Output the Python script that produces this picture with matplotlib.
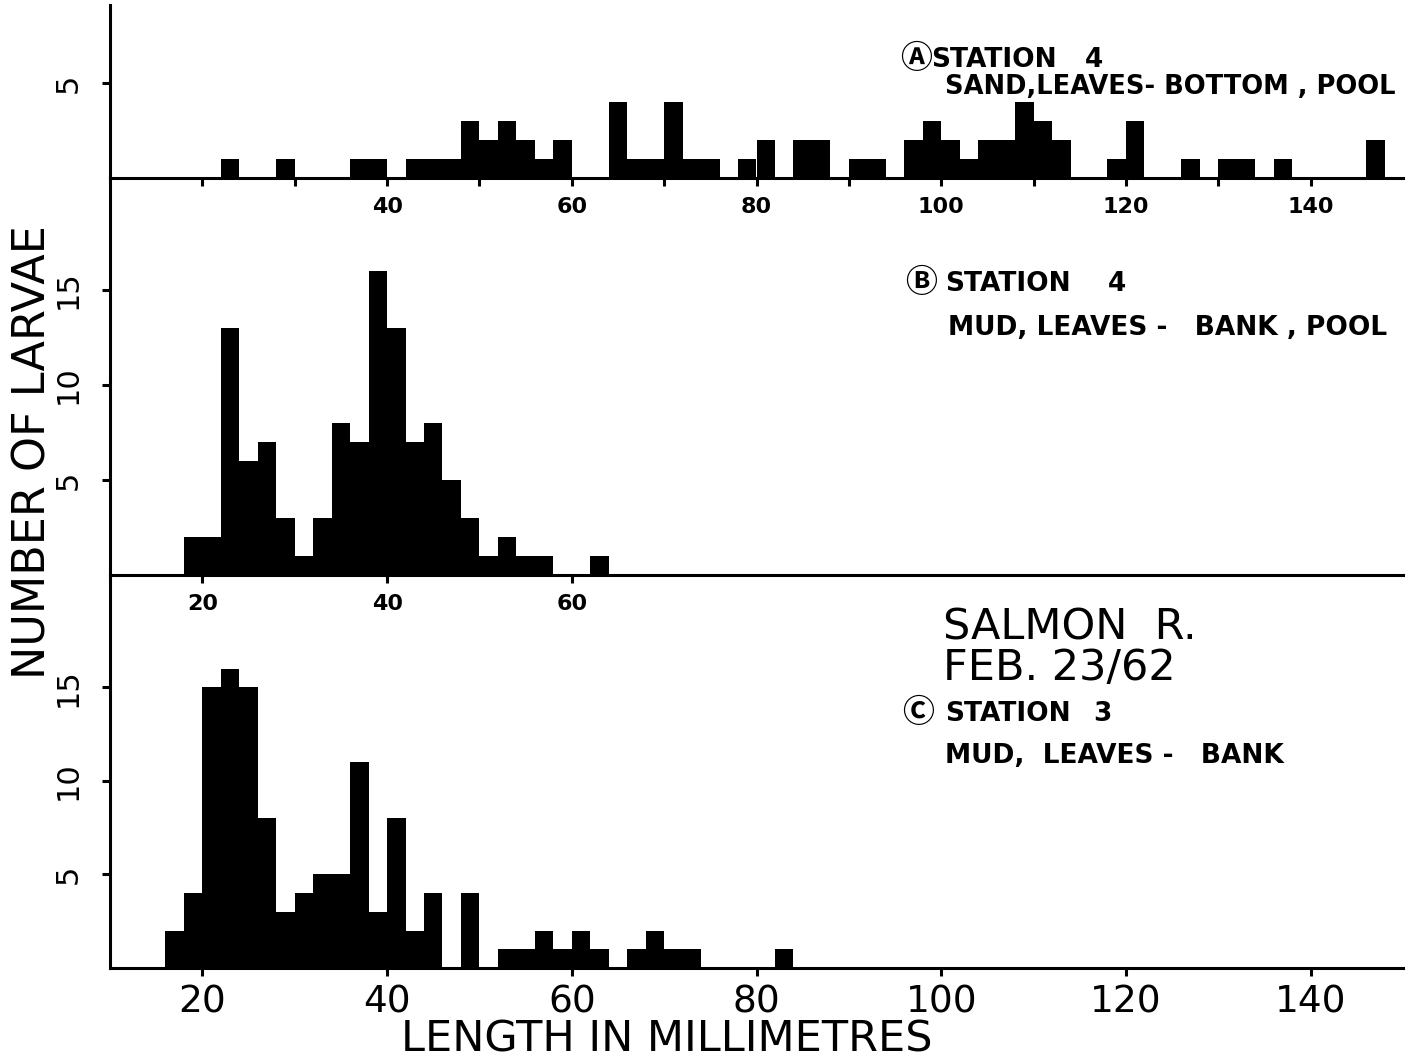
import numpy as np
import matplotlib
matplotlib.use('Agg')
import matplotlib.pyplot as plt

# Larvae counts per 2 mm length class
a_start = 22
a_counts = [1, 0, 0, 1, 0, 0, 0, 1, 1, 0,
            1, 1, 1, 3, 2, 3, 2, 1, 2, 0,
            0, 4, 1, 1, 4, 1, 1, 0, 1, 2,
            0, 2, 2, 0, 1, 1, 0, 2, 3, 2,
            1, 2, 2, 4, 3, 2, 0, 0, 1, 3,
            0, 0, 1, 0, 1, 1, 0, 1, 0, 0,
            0, 0, 2]

b_start = 18
b_counts = [2, 2, 13, 6, 7, 3, 1, 3, 8, 7,
            16, 13, 7, 8, 5, 3, 1, 2, 1, 1,
            0, 0, 1]

c_start = 16
c_counts = [2, 4, 15, 16, 15, 8, 3, 4, 5, 5,
            11, 3, 8, 2, 4, 0, 4, 0, 1, 1,
            2, 1, 2, 1, 0, 1, 2, 1, 1, 0,
            0, 0, 0, 1]

bin_w = 2
W, H = 1411, 1062

fig = plt.figure(figsize=(W / 100, H / 100), dpi=100)


def px_axes(top, bottom, left=110, right=1403):
    return fig.add_axes([left / W, 1 - bottom / H, (right - left) / W, (bottom - top) / H])


ax_a = px_axes(5, 178)
ax_b = px_axes(178, 575)
ax_c = px_axes(575, 968)

panels = [
    (ax_a, a_start, a_counts, 9.1),
    (ax_b, b_start, b_counts, 20.9),
    (ax_c, c_start, c_counts, 21.0),
]

for ax, start, counts, ytop in panels:
    edges = start + bin_w * np.arange(len(counts))
    ax.bar(edges, counts, width=bin_w, align='edge', color='black', linewidth=0)
    ax.set_xlim(10, 150)
    ax.set_ylim(0, ytop)
    ax.patch.set_alpha(0)
    for s in ['top', 'right']:
        ax.spines[s].set_visible(False)
    for s in ['left', 'bottom']:
        ax.spines[s].set_linewidth(2.2)
    ax.tick_params(axis='both', direction='out', length=6, width=2.2)
    ax.tick_params(axis='y', pad=14)

# y ticks
ax_a.set_yticks([5])
ax_b.set_yticks([5, 10, 15])
ax_c.set_yticks([5, 10, 15])
for ax in (ax_a, ax_b, ax_c):
    ax.set_yticklabels([str(t) for t in ax.get_yticks()], rotation=90, va='center',
                       fontsize=22)

# x ticks
a_ticks = list(range(20, 141, 10))
ax_a.set_xticks(a_ticks)
ax_a.set_xticklabels([str(t) if t >= 40 and t % 20 == 0 else '' for t in a_ticks],
                     fontsize=16, fontweight='bold')
ax_a.tick_params(axis='x', pad=8)

ax_b.set_xticks([20, 40, 60])
ax_b.set_xticklabels(['20', '40', '60'], fontsize=16, fontweight='bold')
ax_b.tick_params(axis='x', pad=8)

ax_c.set_xticks(list(range(20, 141, 20)))
ax_c.set_xticklabels([str(t) for t in range(20, 141, 20)], fontsize=27)
ax_c.tick_params(axis='x', pad=6)


def ftext(x, y, s, **kw):
    fig.text(x / W, 1 - y / H, s, va='center', ha='left', **kw)


bold = dict(fontsize=19, fontweight='bold')
circ = dict(fontsize=23, fontweight='bold', family=['Noto Sans CJK JP', 'DejaVu Sans'])

# Panel A
ftext(900, 59, '\u24b6', **circ)
ftext(931, 60, 'STATION', **bold)
ftext(1085, 60, '4', **bold)
ftext(945, 87, 'SAND,LEAVES- BOTTOM , POOL', fontsize=18.5, fontweight='bold')

# Panel B
ftext(905, 283, '\u24b7', **circ)
ftext(945, 284, 'STATION', **bold)
ftext(1108, 284, '4', **bold)
ftext(948, 328, 'MUD, LEAVES -   BANK , POOL', **bold)

# Panel C
ftext(943, 628, 'SALMON  R.', fontsize=31)
ftext(943, 668, 'FEB. 23/62', fontsize=31)
ftext(902, 713, '\u24b8', **circ)
ftext(945, 714, 'STATION', **bold)
ftext(1093, 714, '3', **bold)
ftext(945, 756, 'MUD,  LEAVES -   BANK', **bold)

# Axis titles
fig.text(33 / W, 1 - 452 / H, 'NUMBER OF LARVAE', rotation=90, va='center', ha='center',
         fontsize=32)
fig.text(667 / W, 1 - 1040 / H, 'LENGTH IN MILLIMETRES', va='center', ha='center',
         fontsize=31)

fig.savefig('out.png', dpi=100)
